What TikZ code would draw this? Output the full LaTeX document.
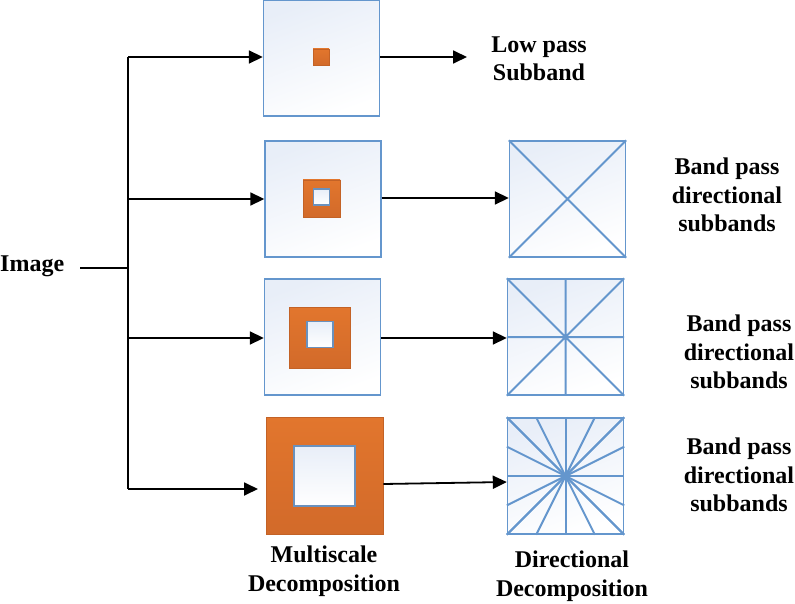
\documentclass[tikz,border=0pt]{standalone}
\usepackage{fontspec}
\setmainfont{Liberation Serif}
\usetikzlibrary{arrows.meta,calc}
\definecolor{boxblue}{RGB}{100,150,205}
\definecolor{paleblue}{RGB}{232,238,248}
\definecolor{orng}{RGB}{210,106,42}
\definecolor{orngdark}{RGB}{195,98,38}
\definecolor{orngl}{RGB}{226,118,45}
\tikzset{
  panel/.style={draw=boxblue, line width=1.4bp, minimum width=116bp, minimum height=116bp, inner sep=0pt, top color=paleblue, bottom color=white, shading angle=20},
  orbox/.style={draw=orngdark, line width=0.8bp, inner sep=0pt, top color=orngl, bottom color=orng},
  hole/.style={draw=boxblue!80!gray, line width=1.3bp, inner sep=0pt, top color=paleblue, bottom color=white},
  ray/.style={draw=boxblue, line width=2bp},
  conn/.style={line width=1.8bp, black},
  arr/.style={conn, -{Triangle[length=14bp,width=13bp]}},
  lbl/.style={font=\bfseries\fontsize{24bp}{28.5bp}\selectfont, align=center, inner sep=0pt}
}
\begin{document}
\begin{tikzpicture}[x=1bp,y=-1bp]
\useasboundingbox (0,0) rectangle (795,604);
% left panels
\node[panel] (b1) at (321.5,58) {};
\node[orbox, minimum size=16bp] (o1) at (321,57) {};
\node[panel] (b2) at (323,199) {};
\node[orbox, minimum size=37bp] (o2) at (321.5,198.5) {};
\node[hole, minimum size=16bp] (h2) at (321.5,197) {};
\node[panel] (b3) at (322.5,337) {};
\node[orbox, minimum size=61bp] (o3) at (320,337.5) {};
\node[hole, minimum size=26bp] (h3) at (320,334.5) {};
\node[orbox, minimum width=117bp, minimum height=117bp] (b4) at (324.5,475.5) {};
\node[hole, minimum width=61bp, minimum height=60bp] (h4) at (324.5,476) {};
% right panels
\node[panel] (d2) at (567.5,199) {};
\draw[ray] (d2.north west) -- (d2.south east) (d2.north east) -- (d2.south west);
\node[panel] (d3) at (565.5,337) {};
\draw[ray] (d3.north west) -- (d3.south east) (d3.north east) -- (d3.south west)
  (d3.north) -- (d3.south) (d3.west) -- (d3.east);
\node[panel] (d4) at (565.5,476) {};
\foreach \t in {0,0.25,0.5,0.75,1}{
  \draw[ray] ($(d4.north west)!\t!(d4.north east)$) -- ($(d4.south east)!\t!(d4.south west)$);
  \draw[ray] ($(d4.north east)!\t!(d4.south east)$) -- ($(d4.south west)!\t!(d4.north west)$);
}
\node[draw=boxblue, line width=1.4bp, minimum width=116bp, minimum height=116bp, inner sep=0pt] at (d4) {};
% texts
\node[lbl, anchor=west] (img) at (0,266) {Image};
\node[lbl] (lp) at (539,59) {Low pass\\Subband};
\node[lbl] (bp2) at (727,195) {Band pass\\directional\\subbands};
\node[lbl] (bp3) at (739,352) {Band pass\\directional\\subbands};
\node[lbl] (bp4) at (739,475) {Band pass\\directional\\subbands};
\node[lbl] (ms) at (324,571) {Multiscale\\Decomposition};
\node[lbl] (dd) at (572,576) {Directional\\Decomposition};
% connectors
\coordinate (s0) at (80,268);
\coordinate (t0) at (128,268);
\coordinate (t1) at (128,57);
\coordinate (t2) at (128,199);
\coordinate (t3) at (128,338);
\coordinate (t4) at (128,489);
\coordinate (e4) at (258,489);
\coordinate (lpend) at (467,57);
\draw[conn] (s0) -- (t0);
\draw[conn] (t1) -- (t4);
\draw[arr] (t1) -- (t1 -| b1.west);
\draw[arr] (t2) -- (t2 -| b2.west);
\draw[arr] (t3) -- (t3 -| b3.west);
\draw[arr] (t4) -- (e4);
\draw[arr] (t1 -| b1.east) -- (lpend);
\draw[arr] (b2.east |- 0,198) -- (d2.west |- 0,198);
\draw[arr] (b3.east |- 0,338) -- (d3.west |- 0,338);
\draw[arr] ([yshift=-8.5bp]b4.east) -- ([yshift=-6bp]d4.west);
\end{tikzpicture}
\end{document}
